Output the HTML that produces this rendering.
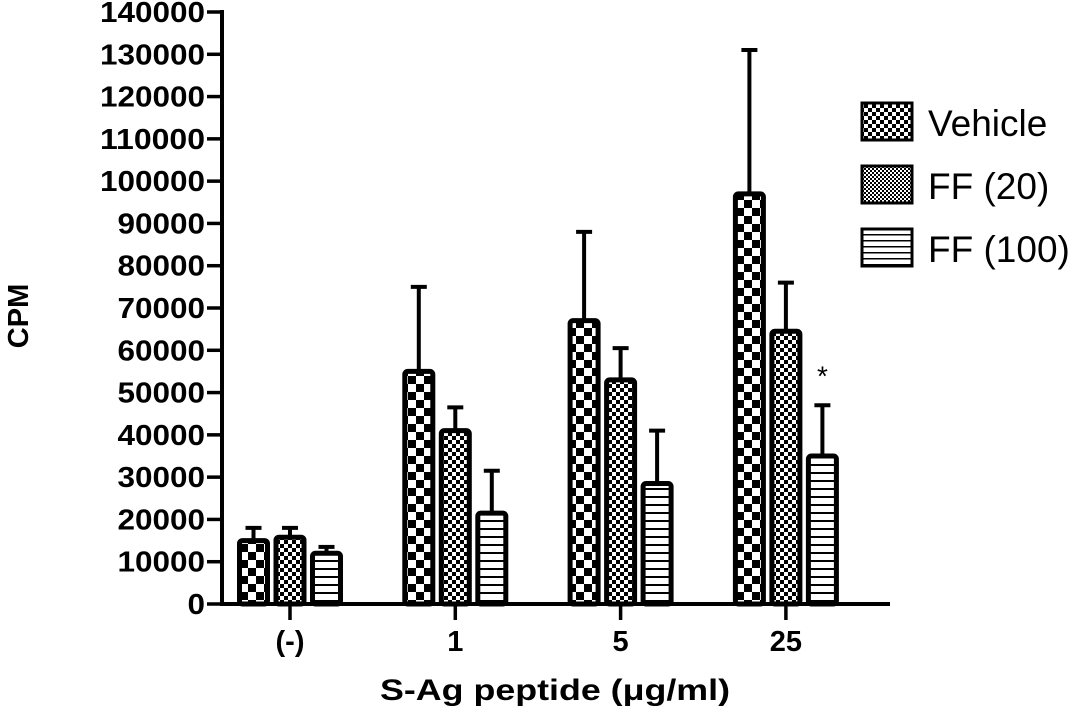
<!DOCTYPE html>
<html><head><meta charset="utf-8"><style>
html,body{margin:0;padding:0;background:#fff;}
svg{display:block;font-family:"Liberation Sans",Arial,sans-serif;}
</style></head><body>
<svg id="chart" width="1070" height="708" viewBox="0 0 1070 708">
<defs>
<pattern id="p0" width="16" height="16" patternUnits="userSpaceOnUse"><rect width="16" height="16" fill="#fff"/><rect width="8" height="8" fill="#000"/><rect x="8" y="8" width="8" height="8" fill="#000"/></pattern>
<pattern id="p1" width="8" height="8" patternUnits="userSpaceOnUse"><rect width="8" height="8" fill="#fff"/><rect width="4" height="4" fill="#000"/><rect x="4" y="4" width="4" height="4" fill="#000"/></pattern>
<pattern id="p2" width="8" height="8" patternUnits="userSpaceOnUse"><rect width="8" height="8" fill="#fff"/><rect y="0" width="8" height="2" fill="#000"/></pattern>
<pattern id="lp0" width="8" height="8" patternUnits="userSpaceOnUse"><rect width="8" height="8" fill="#fff"/><rect width="4" height="4" fill="#000"/><rect x="4" y="4" width="4" height="4" fill="#000"/></pattern>
<pattern id="lp1" width="4" height="4" patternUnits="userSpaceOnUse"><rect width="4" height="4" fill="#fff"/><rect width="2" height="2" fill="#000"/><rect x="2" y="2" width="2" height="2" fill="#000"/></pattern>
<pattern id="lp2" width="6" height="6" patternUnits="userSpaceOnUse"><rect width="6" height="6" fill="#fff"/><rect width="6" height="1.5" fill="#000"/></pattern>
</defs>
<g id="plot"></g>
</svg>
<script>
const categories = ["(-)", "1", "5", "25"];
const seriesNames = ["Vehicle", "FF (20)", "FF (100)"];
const vehicleVals = [15000, 55000, 67000, 97000];
const vehicleErr = [3000, 20000, 21000, 34000];
const ff20Vals = [15800, 41000, 53000, 64500];
const ff20Err = [2200, 5500, 7500, 11500];
const ff100Vals = [12000, 21500, 28500, 35000];
const ff100Err = [1500, 10000, 12500, 12000];
const yTicks = [0,10000,20000,30000,40000,50000,60000,70000,80000,90000,100000,110000,120000,130000,140000];

const NS = "http://www.w3.org/2000/svg";
const g = document.getElementById('plot');
function el(tag, attrs, parent){const e=document.createElementNS(NS,tag);for(const k in attrs)e.setAttribute(k,attrs[k]);(parent||g).appendChild(e);return e;}
const y0=604, yTop=12, yMax=140000;
function yS(v){return y0-(v/yMax)*(y0-yTop);}
const groupCenters0=290, groupStep=165.3, barOff=36.5, barW=28;
function xS(ci,si){return groupCenters0+ci*groupStep+(si-1)*barOff;}

yTicks.forEach(t=>{
  const l=el('line',{x1:207,x2:222,y1:yS(t),y2:yS(t),stroke:'#000','stroke-width':3.5});
  
  
  const tx=el('text',{x:205,y:yS(t)+10,'text-anchor':'end','font-size':29,'font-weight':'bold','textLength':String(t).length*17.5,'lengthAdjust':'spacingAndGlyphs'});
  tx.textContent=t;
  
  
});
const vals=[vehicleVals,ff20Vals,ff100Vals], errs=[vehicleErr,ff20Err,ff100Err];
categories.forEach((c,ci)=>{
  const cx=xS(ci,1);
  const tk=el('line',{x1:cx,x2:cx,y1:y0,y2:620,stroke:'#000','stroke-width':3.5});
  
  
  const tl=el('text',{x:cx,y:651,'text-anchor':'middle','font-size':29,'font-weight':'bold'});
  tl.textContent=c;
  
  
  for(let si=0;si<3;si++){
    const v=vals[si][ci], e=errs[si][ci], x=xS(ci,si);
    const eb=el('line',{x1:x,x2:x,y1:yS(v),y2:yS(v+e),stroke:'#000','stroke-width':4});
    
    
    const cap=el('line',{x1:x-8,x2:x+8,y1:yS(v+e),y2:yS(v+e),stroke:'#000','stroke-width':4});
    
    
    const r=el('rect',{x:x-barW/2,y:yS(v),width:barW,height:y0-yS(v),fill:'url(#p'+si+')',stroke:'#000','stroke-width':5,rx:3});
    
    
  }
});
const st=el('text',{x:xS(3,2),y:yS(ff100Vals[3]+ff100Err[3])-20,'text-anchor':'middle','font-size':28});
st.textContent='*';


const ya=el('line',{x1:222,x2:222,y1:10,y2:606,stroke:'#000','stroke-width':4});


const xa=el('line',{x1:220,x2:890,y1:y0,y2:y0,stroke:'#000','stroke-width':4});


const yt=el('text',{x:0,y:0,transform:'translate(28,316) rotate(-90)','text-anchor':'middle','font-size':29,'font-weight':'bold'});
yt.textContent='CPM';


const xt=el('text',{x:555,y:700,'text-anchor':'middle','font-size':30,'font-weight':'bold','textLength':350,'lengthAdjust':'spacingAndGlyphs'});
xt.textContent='S-Ag peptide (\u03bcg/ml)';


seriesNames.forEach((n,i)=>{
  const yy=103+i*63;
  const b=el('rect',{x:862,y:yy,width:50,height:37,fill:'url(#lp'+i+')',stroke:'#000','stroke-width':3});
  
  
  const t=el('text',{x:928,y:yy+33,'font-size':37});
  t.textContent=n;
  
  
});
</script>
</body></html>
